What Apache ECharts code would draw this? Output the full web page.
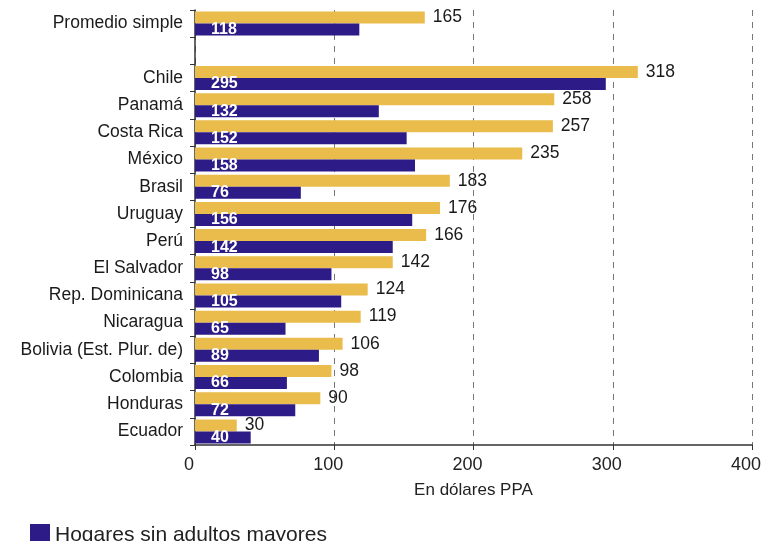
<!DOCTYPE html>
<html>
<head>
<meta charset="utf-8">
<script src="https://cdn.jsdelivr.net/npm/echarts@6/dist/echarts.min.js"></script>
<style>
  html, body { margin: 0; padding: 0; background: #fff; }
  #chart { width: 761px; height: 541px; }
</style>
</head>
<body>
<div id="chart"></div>
<script>
var paises = ['Promedio simple', '', 'Chile', 'Panamá', 'Costa Rica', 'México', 'Brasil', 'Uruguay',
  'Perú', 'El Salvador', 'Rep. Dominicana', 'Nicaragua', 'Bolivia (Est. Plur. de)', 'Colombia',
  'Honduras', 'Ecuador'];
var conAdultos = [165, null, 318, 258, 257, 235, 183, 176, 166, 142, 124, 119, 106, 98, 90, 30];
var sinAdultos = [118, null, 295, 132, 152, 158, 76, 156, 142, 98, 105, 65, 89, 66, 72, 40];

var amarillo = '#E9BC4C';
var morado = '#2D1B87';
var fuente = '"Liberation Sans", Arial, sans-serif';

var chart = echarts.init(document.getElementById('chart'));
chart.setOption({
  backgroundColor: '#fff',
  animation: false,
  textStyle: { fontFamily: fuente },
  grid: { left: 195, right: 9, top: 10, bottom: 96, outerBoundsMode: 'none' },
  // only the first legend entry is visible, the second falls below the picture
  legend: {
    left: 25,
    top: 519,
    itemWidth: 20,
    itemHeight: 22,
    itemGap: 10,
    icon: 'rect',
    textStyle: { fontSize: 21, color: '#222', fontFamily: fuente },
    data: ['Hogares sin adultos mayores']
  },
  xAxis: {
    type: 'value',
    min: 0,
    max: 400,
    interval: 100,
    name: 'En dólares PPA',
    nameLocation: 'middle',
    nameGap: 37,
    nameTextStyle: { fontSize: 17, color: '#222' },
    axisLine: { show: true, lineStyle: { color: '#333', width: 1.5 } },
    axisTick: { show: true, length: 5, lineStyle: { color: '#333' } },
    // labels sit a little left of their ticks in the original
    axisLabel: { fontSize: 18, color: '#222', margin: 11, padding: [0, 12, 0, 0] },
    splitLine: { show: true, lineStyle: { color: '#777', type: [6, 6], width: 1 } }
  },
  yAxis: {
    type: 'category',
    inverse: true,
    data: paises,
    axisLine: { show: true, lineStyle: { color: '#333', width: 1.5 } },
    axisTick: { show: true, length: 5, lineStyle: { color: '#333' } },
    axisLabel: { fontSize: 17.5, color: '#1a1a1a', margin: 12 }
  },
  series: [
    {
      name: 'Hogares con adultos mayores',
      type: 'bar',
      data: conAdultos,
      barWidth: 12,
      barGap: '0%',
      itemStyle: { color: amarillo },
      label: {
        show: true,
        position: 'right',
        distance: 8,
        fontSize: 17.5,
        color: '#1a1a1a'
      }
    },
    {
      name: 'Hogares sin adultos mayores',
      type: 'bar',
      data: sinAdultos,
      barWidth: 12,
      itemStyle: { color: morado },
      label: {
        show: true,
        position: 'insideLeft',
        distance: 16,
        fontSize: 16,
        fontWeight: 'bold',
        color: '#fff'
      }
    }
  ]
});
</script>
</body>
</html>
